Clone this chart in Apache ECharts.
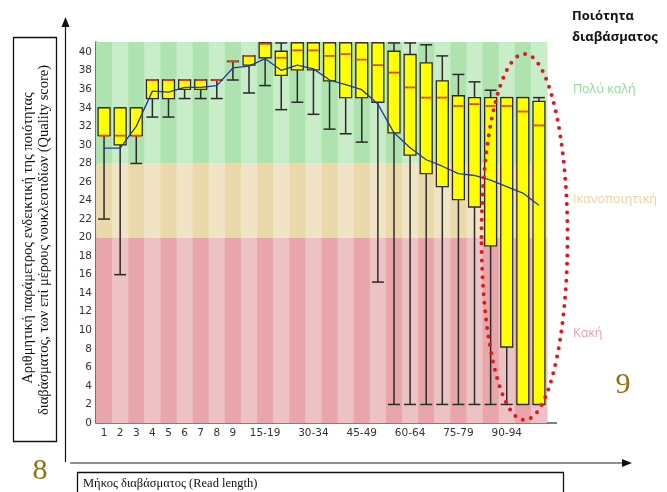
<!DOCTYPE html>
<html>
<head>
<meta charset="utf-8">
<script src="https://cdn.jsdelivr.net/npm/echarts@6/dist/echarts.min.js"></script>
<style>
html,body{margin:0;padding:0;background:#fff;}
#chart{width:667px;height:492px;}
</style>
</head>
<body>
<div id="chart"></div>
<script>
// ---- data ----
var categories = ['1','2','3','4','5','6','7','8','9','10-14','15-19','20-24','25-29','30-34','35-39','40-44','45-49','50-54','55-59','60-64','65-69','70-74','75-79','80-84','85-89','90-94','95-99','100-101'];
var whiskerLow  = [22,16,28,33,33,35,35,35,37,35.6,36.4,33.8,34.6,33.3,31.7,31.2,30.3,15.2,2,2,2,2,2,2,2,2,2,2];
var q1          = [31,30,31,35,35,36,36,37,39,38.6,39.4,37.5,38.1,38.1,36.9,35.1,35.1,34.6,31.3,28.9,26.9,25.5,24.1,23.3,19.1,8.2,2,2];
var median      = [31,31,31,37,37,37,37,37,39,39.6,40.9,39.4,40.2,40.2,39.6,39.8,39.2,38.6,37.8,36.2,35.1,35.1,34.2,34.4,34.2,34.2,33.6,32.1];
var q3          = [34,34,34,37,37,37,37,37,39,39.6,41,40.1,41,41,41,41,41,41,40.1,39.75,38.85,36.9,35.3,35.1,35.1,35.1,35.1,34.7];
var whiskerHigh = [34,34,34,37,37,37,37,37,39,39.6,41,41,41,41,41,41,41,41,41,41,40.8,39.6,37.6,36.8,35.9,35.1,35.1,35.1];
var meanQuality = [29.65,29.65,32,35.8,35.7,36.2,36.2,36.4,38.3,38.5,39.3,38.05,38.6,38.2,37,36.5,35.95,34.4,31.3,29.7,28.4,27.7,26.9,26.7,26.2,25.5,24.8,23.5];
var bandLimits  = [0,20,28,41.1];
var yTicks      = [0,2,4,6,8,10,12,14,16,18,20,22,24,26,28,30,32,34,36,38,40];

var bandColors = [
  ['#e9a6aa','#edc2c4'],  // bad (0-20)
  ['#ecd9ab','#f0e3c6'],  // ok (20-28)
  ['#aee2ae','#c9ecc9']   // good (28+)
];

var boxData = categories.map(function(c,i){return [i, whiskerLow[i], q1[i], median[i], q3[i], whiskerHigh[i]];});
var bgData = categories.map(function(c,i){return [i];});

var chart = echarts.init(document.getElementById('chart'));

var option = {
  animation:false,
  backgroundColor:'#fff',
  grid:{left:96,right:120,top:42,bottom:69},
  xAxis:{
    type:'category',
    data:categories,
    boundaryGap:true,
    axisLine:{show:true,lineStyle:{color:'#555',width:1.5}},
    axisTick:{show:false},
    splitLine:{show:false},
    axisLabel:{
      color:'#333',fontFamily:'DejaVu Sans',fontSize:10.5,margin:5,
      interval:function(i){return i<9 || (i>=10 && (i-10)%3===0);}
    }
  },
  yAxis:{
    type:'value',min:0,max:bandLimits[3],interval:2,
    axisLine:{show:true,lineStyle:{color:'#444',width:1.5}},
    axisTick:{show:false},
    splitLine:{show:false},
    axisLabel:{
      color:'#333',fontFamily:'DejaVu Sans',fontSize:10.5,margin:4,
      formatter:function(v){return yTicks.indexOf(v)>=0 ? String(v) : '';}
    }
  },
  series:[
    {
      type:'custom',
      z:1,
      silent:true,
      data:bgData,
      encode:{x:0},
      renderItem:function(params,api){
        var i=api.value(0);
        var w=api.size([1,0])[0];
        var kids=[];
        for(var b=0;b<3;b++){
          var pTop=api.coord([i,bandLimits[b+1]]);
          var pBot=api.coord([i,bandLimits[b]]);
          kids.push({type:'rect',shape:{x:pTop[0]-w/2,y:pTop[1],width:w+0.5,height:pBot[1]-pTop[1]},
            style:{fill:bandColors[b][i%2]}});
        }
        return {type:'group',children:kids};
      }
    },
    {
      type:'custom',
      z:3,
      silent:true,
      data:boxData,
      encode:{x:0,y:[1,2,3,4,5]},
      renderItem:function(params,api){
        var i=api.value(0);
        var lo=api.coord([i,api.value(1)]);
        var b1=api.coord([i,api.value(2)]);
        var md=api.coord([i,api.value(3)]);
        var b3=api.coord([i,api.value(4)]);
        var hi=api.coord([i,api.value(5)]);
        var bw=api.size([1,0])[0]*0.74;
        var cx=lo[0];
        var stroke='#2a2a2a';
        var kids=[];
        kids.push({type:'line',shape:{x1:cx,y1:b1[1],x2:cx,y2:lo[1]},style:{stroke:stroke,lineWidth:1.5}});
        kids.push({type:'line',shape:{x1:cx,y1:b3[1],x2:cx,y2:hi[1]},style:{stroke:stroke,lineWidth:1.5}});
        kids.push({type:'line',shape:{x1:cx-bw/2,y1:lo[1],x2:cx+bw/2,y2:lo[1]},style:{stroke:stroke,lineWidth:1.5}});
        kids.push({type:'line',shape:{x1:cx-bw/2,y1:hi[1],x2:cx+bw/2,y2:hi[1]},style:{stroke:stroke,lineWidth:1.5}});
        kids.push({type:'rect',shape:{x:cx-bw/2,y:b3[1],width:bw,height:Math.max(b1[1]-b3[1],0)},
          style:{fill:'#ffff00',stroke:stroke,lineWidth:1.3}});
        kids.push({type:'line',shape:{x1:cx-bw/2+1,y1:md[1],x2:cx+bw/2-1,y2:md[1]},style:{stroke:'#e0461c',lineWidth:1.8}});
        return {type:'group',children:kids};
      }
    },
    {
      type:'line',
      z:5,
      data:meanQuality,
      symbol:'none',
      smooth:false,
      lineStyle:{color:'#23389e',width:1.3}
    }
  ],
  graphic:[
    // x axis extension
    {type:'line',shape:{x1:547,y1:423,x2:557,y2:423},style:{stroke:'#555',lineWidth:1.5},z:10},
    // vertical arrow
    {type:'line',shape:{x1:65.5,y1:24,x2:65.5,y2:462},style:{stroke:'#111',lineWidth:1.2}},
    {type:'polygon',shape:{points:[[65.5,17],[61.5,27],[69.5,27]]},style:{fill:'#111'}},
    // horizontal arrow
    {type:'line',shape:{x1:70,y1:463,x2:624,y2:463},style:{stroke:'#222',lineWidth:1.2}},
    {type:'polygon',shape:{points:[[632,463],[622,459],[622,467]]},style:{fill:'#111'}},
    // y-title box
    {type:'rect',shape:{x:13.5,y:37.5,width:43,height:404},style:{fill:'none',stroke:'#111',lineWidth:1.3}},
    {type:'text',x:28,y:238,rotation:Math.PI/2,
      style:{text:'Αριθμητική παράμετρος ενδεικτική της ποιότητας',font:'14.5px "Liberation Serif"',fill:'#111',textAlign:'center',textVerticalAlign:'middle'}},
    {type:'text',x:44,y:240,rotation:Math.PI/2,
      style:{text:'διαβάσματος, των επί μέρους νουκλεοτιδίων (Quality score)',font:'14.5px "Liberation Serif"',fill:'#111',textAlign:'center',textVerticalAlign:'middle'}},
    // x-title box
    {type:'rect',shape:{x:77.5,y:472.5,width:486,height:25},style:{fill:'none',stroke:'#111',lineWidth:1.3}},
    {type:'text',x:83,y:484,style:{text:'Μήκος διαβάσματος (Read length)',font:'12.5px "Liberation Serif"',fill:'#111',textAlign:'left',textVerticalAlign:'middle'}},
    // numbers
    {type:'text',x:40,y:471,style:{text:'8',font:'30px "Liberation Serif"',fill:'#9a6c12',textAlign:'center',textVerticalAlign:'middle'}},
    {type:'text',x:623,y:385,style:{text:'9',font:'30px "Liberation Serif"',fill:'#9a6c12',textAlign:'center',textVerticalAlign:'middle'}},
    // right annotations
    {type:'text',x:572,y:16,style:{text:'Ποιότητα',font:'bold 13px "Open Sans"',fill:'#111',textAlign:'left',textVerticalAlign:'middle'}},
    {type:'text',x:572,y:37,style:{text:'διαβάσματος',font:'bold 13px "Open Sans"',fill:'#111',textAlign:'left',textVerticalAlign:'middle'}},
    {type:'text',x:573,y:89,style:{text:'Πολύ καλή',font:'12.5px "Open Sans"',fill:'#93d89c',textAlign:'left',textVerticalAlign:'middle'}},
    {type:'text',x:573,y:199,style:{text:'Ικανοποιητική',font:'12.5px "Open Sans"',fill:'#e8d2a6',textAlign:'left',textVerticalAlign:'middle'}},
    {type:'text',x:573,y:333,style:{text:'Κακή',font:'12.5px "Open Sans"',fill:'#e1a4ab',textAlign:'left',textVerticalAlign:'middle'}},
    // red dotted ellipse
    {type:'ellipse',z:20,shape:{cx:524.5,cy:237,rx:43,ry:183},
      style:{fill:'none',stroke:'#e3151e',lineWidth:4,lineDash:[0,8.5],lineCap:'round'}}
  ]
};
chart.setOption(option);
</script>
</body>
</html>
